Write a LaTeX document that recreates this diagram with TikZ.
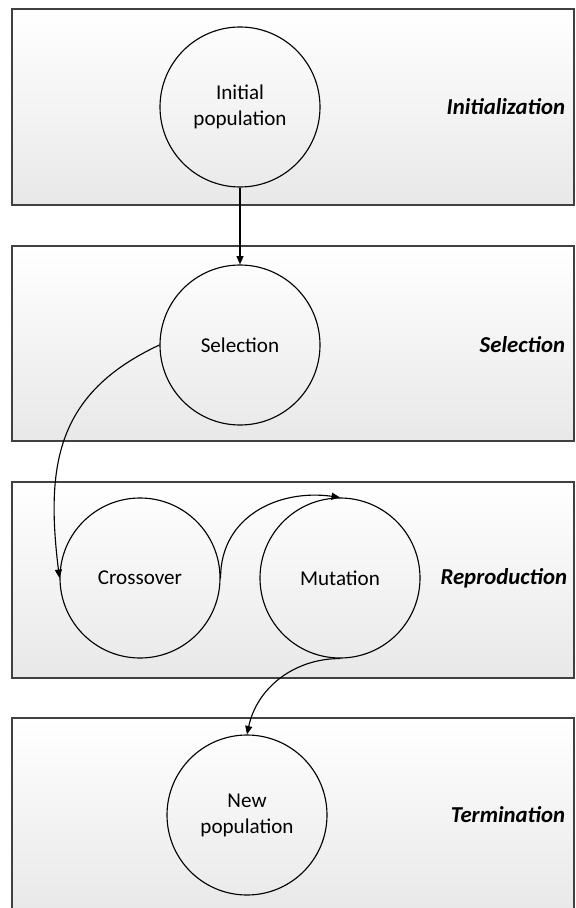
\documentclass[tikz,border=0pt]{standalone}
\usepackage{fontspec}
\setmainfont{Carlito}
\usetikzlibrary{arrows.meta}

\tikzset{
  stage/.style={draw=black!75,line width=1.1pt,top color=white,bottom color=black!9},
  op/.style={circle,draw=black,line width=0.8pt,minimum size=4cm,inner sep=0pt,align=center,font=\fontsize{15}{18.5}\selectfont},
  phase/.style={anchor=east,font=\fontsize{16.2}{19}\selectfont\bfseries\itshape},
  flow/.style={-{Triangle[length=6pt,width=5pt]},line width=0.8pt}
}

\begin{document}
\begin{tikzpicture}
\useasboundingbox (0,0) rectangle (14.375,-22.7);

% the four stages
\draw[stage] (0.3,-0.225) rectangle (14.35,-5.125);
\draw[stage] (0.3,-6.15) rectangle (14.35,-11.025);
\draw[stage] (0.3,-12.05) rectangle (14.35,-16.95);
\draw[stage] (0.3,-17.95) rectangle (14.35,-22.85);

\node[op] (init) at (6,-2.675) {Initial\\population};
\node[op] (sel) at (6,-8.625) {Selection};
\node[op] (cross) at (3.5,-14.45) {Crossover};
\node[op] (mut) at (8.5,-14.45) {Mutation};
\node[op] (new) at (6.175,-20.375) {New\\population};

\node[phase] (pinit) at (14.25,-2.675) {Initialization};
\node[phase] (psel) at (14.25,-8.625) {Selection};
\node[phase] (prep) at (14.3,-14.45) {Reproduction};
\node[phase] (pterm) at (14.25,-20.375) {Termination};

% arrows
\draw[flow] (init.south) -- (sel.north);
\draw[flow] (sel.west) to[out=205,in=97,looseness=1.15] (cross.west);
\draw[flow] (cross.east) to[out=90,in=172,looseness=1.1] (mut.north);
\draw[flow] (mut.south) to[out=180,in=78] (new.north);
\end{tikzpicture}
\end{document}
